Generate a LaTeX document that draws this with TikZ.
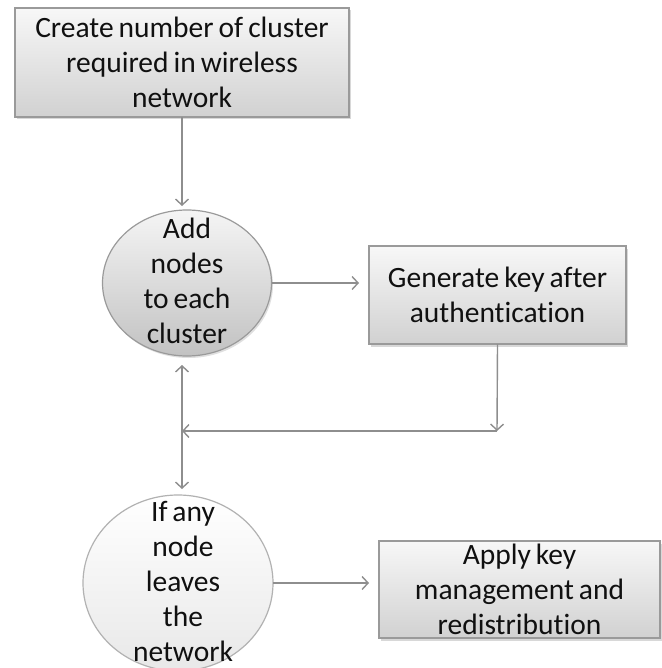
\documentclass[tikz,border=0pt]{standalone}
\usepackage{fontspec}
\setmainfont{Carlito}[Ligatures=NoCommon,WordSpace=0.75]
\usetikzlibrary{arrows.meta,shapes.geometric,shadows,calc}
\definecolor{linegray}{HTML}{8E8E8E}
\definecolor{edgegray}{HTML}{9A9A9A}
\definecolor{txtcol}{HTML}{101010}
\begin{document}
\begin{tikzpicture}[x=1pt,y=-1pt,
  every node/.style={inner sep=0pt,outer sep=0pt},
  txt/.style={align=center,text=txtcol,font=\fontsize{29.5}{35}\selectfont},
  boxshape/.style={rectangle,draw=edgegray,line width=1.2pt,top color=black!3,bottom color=black!18,
    drop shadow={opacity=0.3,shadow xshift=2pt,shadow yshift=-2.5pt}},
  oval/.style={ellipse,draw=edgegray,line width=1.2pt},
  conn/.style={draw=linegray,line width=1.4pt,-{Straight Barb[length=6pt,width=13pt]}},
  dconn/.style={draw=linegray,line width=1.4pt,{Straight Barb[length=6pt,width=13pt]}-{Straight Barb[length=6pt,width=13pt]}}]
\useasboundingbox[fill=white] (0,0) rectangle (661,668);

% boxes
\node[boxshape,txt,minimum width=334,minimum height=109] (create) at (182,62.5)
  {Create number of cluster\\required in wireless\\network};
\node[boxshape,txt,minimum width=257,minimum height=98] (gen) at (497.5,295)
  {Generate key after\\authentication};
\node[boxshape,txt,minimum width=281,minimum height=97] (apply) at (519.5,589.5)
  {Apply key\\management and\\redistribution};

% ovals
\node[oval,minimum width=169,minimum height=146,top color=black!4,bottom color=black!24,
  drop shadow={opacity=0.25,shadow xshift=1.5pt,shadow yshift=-2pt}] (addc) at (187,283) {};
\node[txt] (addt) at (187,281) {Add\\nodes\\to each\\cluster};
\node[oval,draw=black!30,minimum width=190,minimum height=176,top color=white,bottom color=black!9] (leave) at (178,583) {};
\node[txt] (leavet) at (183,581) {If any\\node\\leaves\\the\\network};

% connector points
\coordinate (corner) at (497,431);
\coordinate (junc) at (182,431);

% connectors
\draw[conn,shorten >=4pt] (create.south) -- (create.south |- addc.north);
\draw[conn,shorten >=10pt] (addc.east) -- (addc.east -| gen.west);
\draw[conn] (gen.south) -- (corner);
\draw[conn] (corner) -- (junc);
\draw[dconn,shorten <=9pt,shorten >=6pt] (junc |- addc.south) -- (junc |- leave.north);
\draw[conn,shorten >=10pt] (leave.east) -- (leave.east -| apply.west);
\end{tikzpicture}
\end{document}
